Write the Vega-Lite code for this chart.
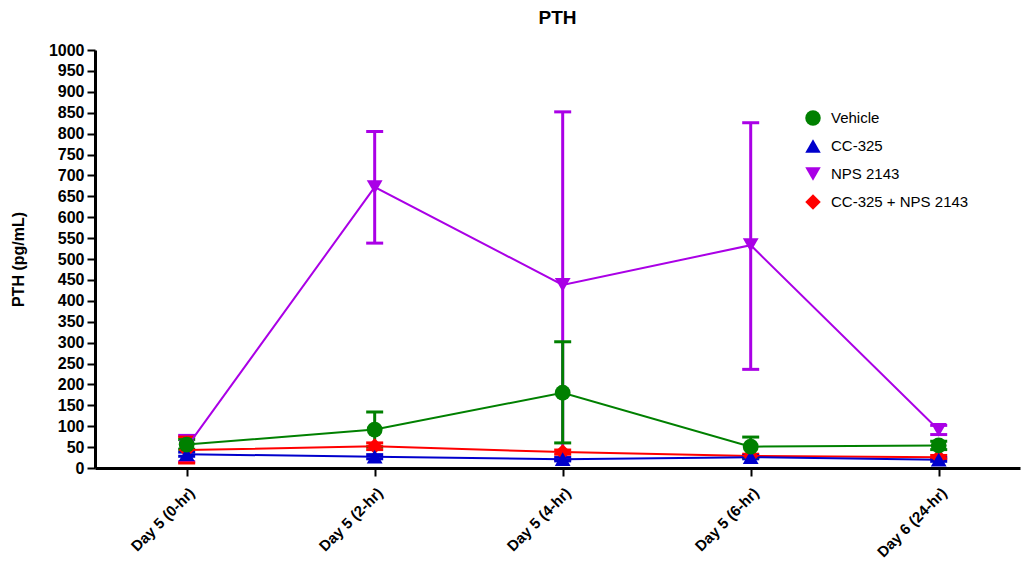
{
  "$schema": "https://vega.github.io/schema/vega-lite/v6.json",
  "width": 925,
  "height": 418,
  "autosize": {"type": "none"},
  "padding": {"left": 95, "top": 50, "right": 8, "bottom": 93},
  "background": "white",
  "config": {
    "view": {"stroke": null},
    "font": "Liberation Sans",
    "axisY": {
      "format": "d",
      "labelOverlap": false,
      "labelFontSize": 16, "labelFontWeight": "bold", "labelColor": "black", "labelFont": "Liberation Sans",
      "labelPadding": 3, "domainColor": "black", "domainWidth": 3, "tickColor": "black", "tickWidth": 2,
      "tickSize": 8, "grid": false,
      "titleFontSize": 16, "titleFontWeight": "bold", "titleColor": "black", "titlePadding": 22, "titleFont": "Liberation Sans"
    },
    "legend": {
      "labelFontSize": 15, "labelColor": "black", "labelFont": "Liberation Sans", "labelOffset": 10,
      "symbolSize": 240, "rowPadding": 12, "symbolStrokeWidth": 0, "symbolOpacity": 1
    }
  },
  "title": {"text": "PTH", "fontSize": 19, "fontWeight": "bold", "font": "Liberation Sans", "anchor": "middle", "offset": 14, "color": "black"},
  "data": {
    "values": [
      {"group": "NPS 2143", "time": "Day 5 (0-hr)", "mean": 50, "lo": 15, "hi": 78},
      {"group": "NPS 2143", "time": "Day 5 (2-hr)", "mean": 672, "lo": 538, "hi": 805},
      {"group": "NPS 2143", "time": "Day 5 (4-hr)", "mean": 438, "lo": 20, "hi": 852},
      {"group": "NPS 2143", "time": "Day 5 (6-hr)", "mean": 533, "lo": 236, "hi": 826},
      {"group": "NPS 2143", "time": "Day 6 (24-hr)", "mean": 91, "lo": 80, "hi": 102},
      {"group": "CC-325 + NPS 2143", "time": "Day 5 (0-hr)", "mean": 43, "lo": 12, "hi": 74},
      {"group": "CC-325 + NPS 2143", "time": "Day 5 (2-hr)", "mean": 52, "lo": 44, "hi": 60},
      {"group": "CC-325 + NPS 2143", "time": "Day 5 (4-hr)", "mean": 38, "lo": 33, "hi": 43},
      {"group": "CC-325 + NPS 2143", "time": "Day 5 (6-hr)", "mean": 29, "lo": 25, "hi": 33},
      {"group": "CC-325 + NPS 2143", "time": "Day 6 (24-hr)", "mean": 26, "lo": 22, "hi": 30},
      {"group": "CC-325", "time": "Day 5 (0-hr)", "mean": 33, "lo": 28, "hi": 38},
      {"group": "CC-325", "time": "Day 5 (2-hr)", "mean": 27, "lo": 22, "hi": 32},
      {"group": "CC-325", "time": "Day 5 (4-hr)", "mean": 21, "lo": 17, "hi": 25},
      {"group": "CC-325", "time": "Day 5 (6-hr)", "mean": 26, "lo": 22, "hi": 30},
      {"group": "CC-325", "time": "Day 6 (24-hr)", "mean": 20, "lo": 16, "hi": 24},
      {"group": "Vehicle", "time": "Day 5 (0-hr)", "mean": 56, "lo": 45, "hi": 68},
      {"group": "Vehicle", "time": "Day 5 (2-hr)", "mean": 92, "lo": 51, "hi": 134},
      {"group": "Vehicle", "time": "Day 5 (4-hr)", "mean": 180, "lo": 60, "hi": 302},
      {"group": "Vehicle", "time": "Day 5 (6-hr)", "mean": 51, "lo": 26, "hi": 74},
      {"group": "Vehicle", "time": "Day 6 (24-hr)", "mean": 54, "lo": 44, "hi": 64}
    ]
  },
  "encoding": {
    "x": {
      "field": "time", "type": "nominal", "sort": null,
      "scale": {"type": "point", "padding": 0.46, "align": 0.53},
      "axis": {
        "title": null, "labelAngle": -45, "labelFontSize": 15, "labelFontWeight": "bold",
        "labelColor": "black", "labelPadding": 9, "domainColor": "black", "domainWidth": 3,
        "tickColor": "black", "tickWidth": 2, "tickSize": 8, "grid": false, "labelFont": "Liberation Sans"
      }
    },
    "color": {
      "field": "group", "type": "nominal",
      "scale": {"domain": ["Vehicle", "CC-325", "NPS 2143", "CC-325 + NPS 2143"], "range": ["#008000", "#0000CC", "#AA00E6", "#FF0000"]},
      "legend": {"title": null, "orient": "none", "legendX": 710, "legendY": 60}
    }
  },
  "layer": [
    {
      "mark": {"type": "rule", "strokeWidth": 3},
      "encoding": {
        "y": {
          "field": "lo", "type": "quantitative", "scale": {"domain": [0, 1000], "nice": false},
          "axis": {"title": "PTH (pg/mL)", "values": [0,50,100,150,200,250,300,350,400,450,500,550,600,650,700,750,800,850,900,950,1000]}
        },
        "y2": {"field": "hi"}
      }
    },
    {
      "mark": {"type": "tick", "size": 17, "thickness": 3, "opacity": 1},
      "encoding": {"y": {"field": "hi", "type": "quantitative",
        "axis": {"title": "PTH (pg/mL)", "values": [0,50,100,150,200,250,300,350,400,450,500,550,600,650,700,750,800,850,900,950,1000]}}}
    },
    {
      "mark": {"type": "tick", "size": 17, "thickness": 3, "opacity": 1},
      "encoding": {"y": {"field": "lo", "type": "quantitative",
        "axis": {"title": "PTH (pg/mL)", "values": [0,50,100,150,200,250,300,350,400,450,500,550,600,650,700,750,800,850,900,950,1000]}}}
    },
    {
      "mark": {"type": "line", "strokeWidth": 2},
      "encoding": {"y": {"field": "mean", "type": "quantitative",
        "axis": {"title": "PTH (pg/mL)", "values": [0,50,100,150,200,250,300,350,400,450,500,550,600,650,700,750,800,850,900,950,1000]}}}
    },
    {
      "mark": {"type": "point", "filled": true, "opacity": 1, "size": 250},
      "encoding": {
        "y": {"field": "mean", "type": "quantitative",
          "axis": {"title": "PTH (pg/mL)", "values": [0,50,100,150,200,250,300,350,400,450,500,550,600,650,700,750,800,850,900,950,1000]}},
        "shape": {
          "field": "group", "type": "nominal",
          "scale": {"domain": ["Vehicle", "CC-325", "NPS 2143", "CC-325 + NPS 2143"], "range": ["circle", "triangle-up", "triangle-down", "diamond"]},
          "legend": {"title": null, "orient": "none", "legendX": 710, "legendY": 60}
        }
      }
    }
  ]
}
